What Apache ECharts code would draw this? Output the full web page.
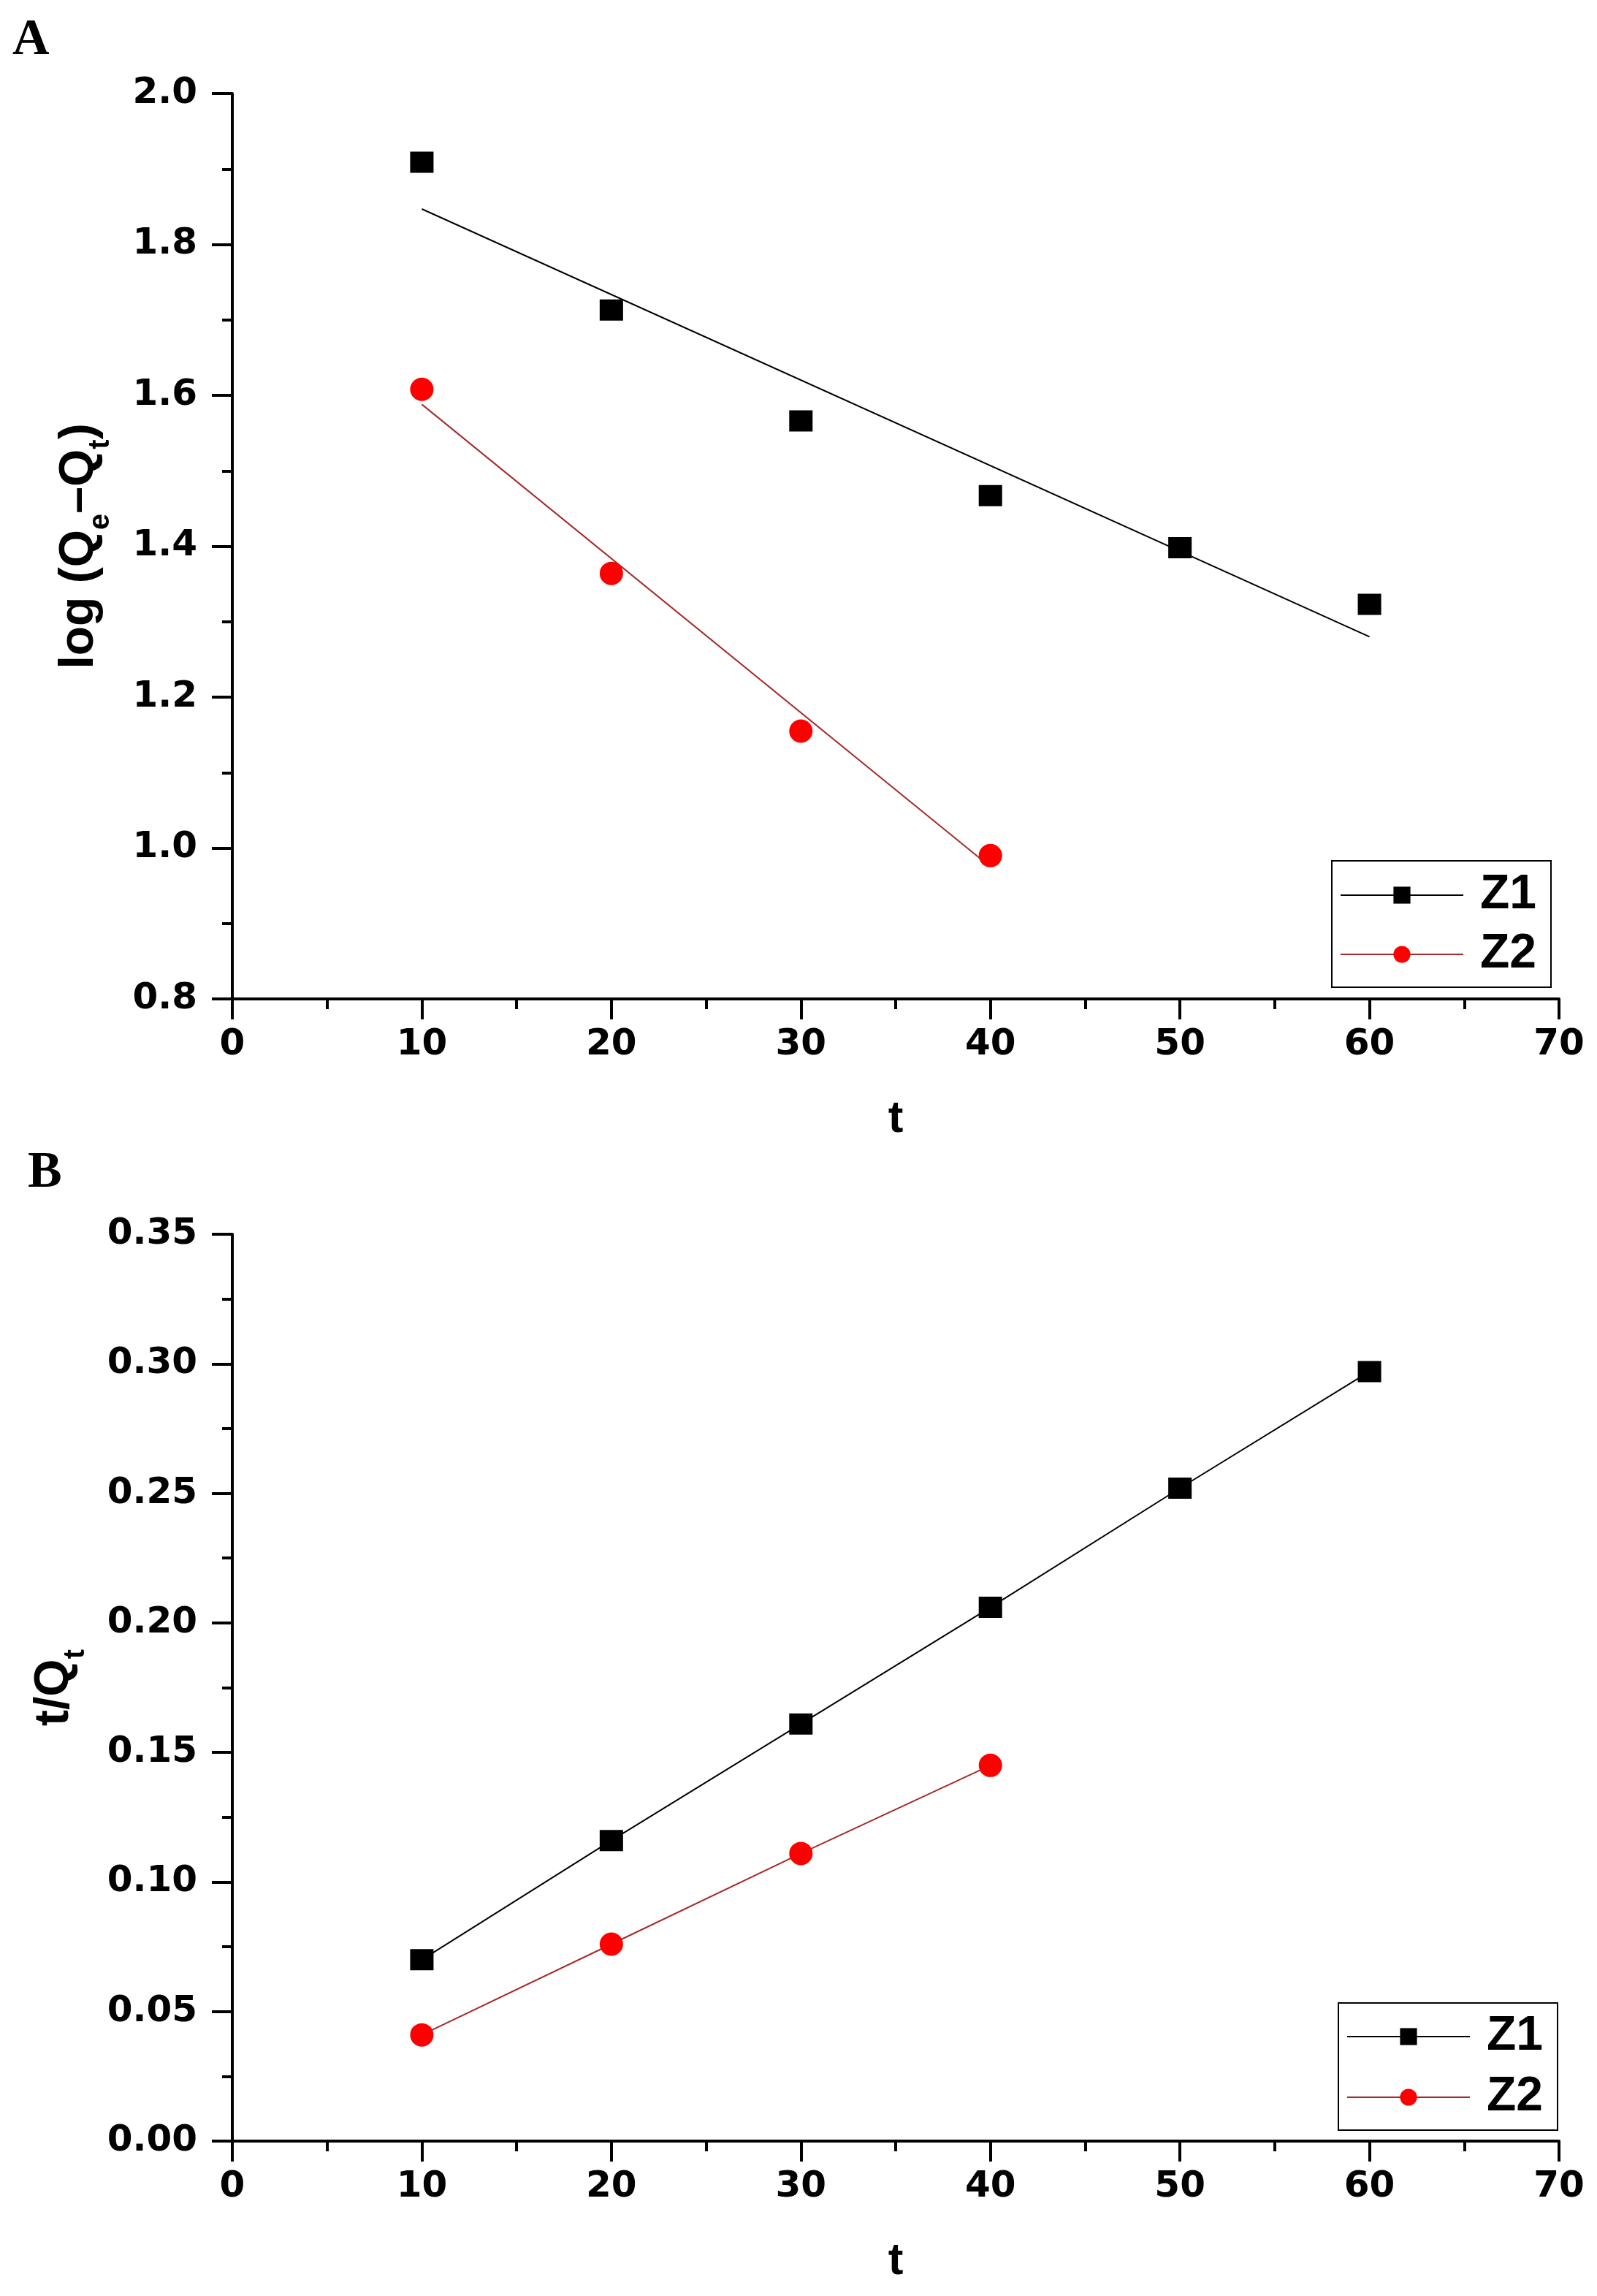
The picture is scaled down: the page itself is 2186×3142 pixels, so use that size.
<!DOCTYPE html>
<html>
<head>
<meta charset="utf-8">
<title>Kinetic plots</title>
<script src="https://cdn.jsdelivr.net/npm/echarts@6.0.0/dist/echarts.min.js"></script>
<style>
  html, body { margin: 0; padding: 0; background: #fff; }
  #chart { width: 2186px; height: 3142px; }
</style>
</head>
<body>
<div id="chart"></div>
<script>
// panel A: log(Qe - Qt) vs t
const tZ1 = [10, 20, 30, 40, 50, 60];
const tZ2 = [10, 20, 30, 40];
const logZ1 = [1.909, 1.713, 1.566, 1.467, 1.398, 1.323];
const logZ2 = [1.608, 1.364, 1.155, 0.990];
// fitted lines in panel A (end points)
const fitTZ1 = [10, 60];
const fitLogZ1 = [1.847, 1.280];
const fitTZ2 = [10, 40];
const fitLogZ2 = [1.588, 0.975];
// panel B: t/Qt vs t
const ratioZ1 = [0.070, 0.116, 0.161, 0.206, 0.252, 0.297];
const ratioZ2 = [0.041, 0.076, 0.111, 0.145];
const seriesNames = ['Z1', 'Z2'];

const FONT = '"Liberation Sans", Arial, sans-serif';
const TICK_FONT = '"DejaVu Sans", Verdana, sans-serif';

function pairs(xs, ys) {
    return xs.map((x, i) => [x, ys[i]]);
}

function xAxisFor(gridIndex) {
    return {
        gridIndex: gridIndex,
        type: 'value',
        min: 0,
        max: 70,
        interval: 10,
        name: 't',
        nameLocation: 'middle',
        nameGap: 134,
        nameTextStyle: { fontFamily: FONT, fontWeight: 'bold', fontSize: 62, color: '#000' },
        axisLine: { onZero: false, lineStyle: { color: '#000', width: 4 } },
        axisTick: { inside: false, length: 28, lineStyle: { color: '#000', width: 4 } },
        minorTick: { show: true, splitNumber: 2, length: 14, lineStyle: { color: '#000', width: 4 } },
        axisLabel: { margin: 38, fontFamily: TICK_FONT, fontWeight: 'bold', fontSize: 50, color: '#000' },
        splitLine: { show: false }
    };
}

function yAxisFor(gridIndex, min, max, interval, digits, name, gap) {
    return {
        gridIndex: gridIndex,
        type: 'value',
        min: min,
        max: max,
        interval: interval,
        name: name,
        nameLocation: 'middle',
        nameGap: gap,
        nameTextStyle: {
            color: '#000',
            rich: {
                m: { fontFamily: FONT, fontWeight: 'bold', fontSize: 66, lineHeight: 66, color: '#000' },
                sub: { fontFamily: FONT, fontWeight: 'bold', fontSize: 40, lineHeight: 40, padding: [58, 0, 0, 0], color: '#000' }
            }
        },
        axisLine: { onZero: false, lineStyle: { color: '#000', width: 4 } },
        axisTick: { inside: false, length: 28, lineStyle: { color: '#000', width: 4 } },
        minorTick: { show: true, splitNumber: 2, length: 14, lineStyle: { color: '#000', width: 4 } },
        axisLabel: {
            margin: 48, fontFamily: TICK_FONT, fontWeight: 'bold', fontSize: 50, color: '#000',
            formatter: v => v.toFixed(digits)
        },
        splitLine: { show: false }
    };
}

function legendFor(left, top, gap, padding) {
    return {
        data: seriesNames,
        orient: 'vertical',
        left: left,
        top: top,
        itemGap: gap,
        itemWidth: 168,
        itemHeight: 29,
        padding: padding,
        borderColor: '#000',
        borderWidth: 2,
        selectedMode: false,
        textStyle: {
            fontFamily: FONT, fontWeight: 'bold', fontSize: 66, lineHeight: 65,
            color: '#000', padding: [0, 0, 0, 18]
        }
    };
}

const black = '#000000';
const red = '#ff0000';
const darkRed = '#a52a2a';

const chart = echarts.init(document.getElementById('chart'), null, { renderer: 'canvas' });

chart.setOption({
    backgroundColor: '#ffffff',
    animation: false,
    grid: [
        { left: 318, top: 128, width: 1816, height: 1239 },
        { left: 318, top: 1689, width: 1816, height: 1241 }
    ],
    xAxis: [xAxisFor(0), xAxisFor(1)],
    yAxis: [
        yAxisFor(0, 0.8, 2.0, 0.2, 1, '{m|log (Q}{sub|e}{m|\u2013Q}{sub|t}{m|)}', 176),
        yAxisFor(1, 0, 0.35, 0.05, 2, '{m|t/Q}{sub|t}', 210)
    ],
    legend: [
        legendFor(1823, 1178, 15, [14, 20, 12, 11]),
        legendFor(1832, 2741, 17, [13, 20, 12, 11])
    ],
    graphic: [
        { type: 'text', left: 17, top: 21, style: { text: 'A', font: 'bold 70px "Liberation Serif", "Times New Roman", serif', fill: '#000' } },
        { type: 'text', left: 38, top: 1571, style: { text: 'B', font: 'bold 70px "Liberation Serif", "Times New Roman", serif', fill: '#000' } }
    ],
    series: [
        // panel A fitted lines (carry the legend)
        {
            name: 'Z1', type: 'line', xAxisIndex: 0, yAxisIndex: 0,
            data: pairs(fitTZ1, fitLogZ1),
            symbol: 'rect', showSymbol: false, color: black,
            itemStyle: { color: black, borderWidth: 0 },
            lineStyle: { color: black, width: 2 }, z: 2
        },
        {
            name: 'Z2', type: 'line', xAxisIndex: 0, yAxisIndex: 0,
            data: pairs(fitTZ2, fitLogZ2),
            symbol: 'circle', showSymbol: false, color: red,
            itemStyle: { color: red, borderWidth: 0 },
            lineStyle: { color: darkRed, width: 2 }, z: 2
        },
        // panel A measured points
        {
            name: 'Z1 points', type: 'scatter', xAxisIndex: 0, yAxisIndex: 0,
            data: pairs(tZ1, logZ1),
            symbol: 'rect', symbolSize: [32, 29],
            itemStyle: { color: black, opacity: 1 }, z: 3
        },
        {
            name: 'Z2 points', type: 'scatter', xAxisIndex: 0, yAxisIndex: 0,
            data: pairs(tZ2, logZ2),
            symbol: 'circle', symbolSize: 32,
            itemStyle: { color: red, opacity: 1 }, z: 3
        },
        // panel B
        {
            name: 'Z1', type: 'line', xAxisIndex: 1, yAxisIndex: 1,
            data: pairs(tZ1, ratioZ1),
            symbol: 'rect', symbolSize: [32, 29], showAllSymbol: true, color: black,
            itemStyle: { color: black, borderWidth: 0 },
            lineStyle: { color: black, width: 2 }, z: 3
        },
        {
            name: 'Z2', type: 'line', xAxisIndex: 1, yAxisIndex: 1,
            data: pairs(tZ2, ratioZ2),
            symbol: 'circle', symbolSize: 32, showAllSymbol: true, color: red,
            itemStyle: { color: red, borderWidth: 0 },
            lineStyle: { color: darkRed, width: 2 }, z: 3
        }
    ]
});

window.addEventListener('resize', () => {
    chart.resize();
});
</script>
</body>
</html>
